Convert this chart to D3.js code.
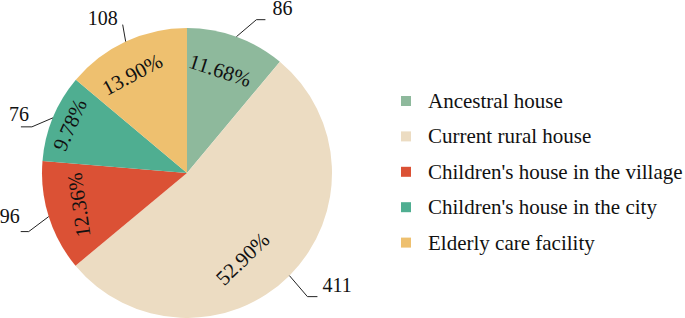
<!DOCTYPE html>
<html lang="en">
<head>
<meta charset="utf-8">
<title>Pie chart</title>
<script src="https://d3js.org/d3.v7.min.js"></script>
<style>
  body { margin: 0; background: #fff; }
  text { font-family: "Liberation Serif", "Times New Roman", serif; fill: #111; }
</style>
</head>
<body>
<div id="chart"></div>
<script>
// data
var categories = ["Ancestral house", "Current rural house", "Children's house in the village", "Children's house in the city", "Elderly care facility"];
var counts = [86, 411, 96, 76, 108];
var percentLabels = ["11.68%", "52.90%", "12.36%", "9.78%", "13.90%"];
var colors = ["#8eb99c", "#ecdcc2", "#db5135", "#4fae91", "#eec06f"];

// layout tweaks for the labels (same order as categories)
var pctRadius = [108, 102, 113, 127, 113];
var pctShift = [-2, 12, 1, 0, -4]; // degrees away from the slice middle
var pctRotate = [18, -44, -98, -66, -28];
var kneeOffset = [[20, -17], [18, 21], [-20, 15], [-21, 9], [-3, -17]];
var tailLen = [9, 10, -8, -11, 0];
var countOffset = [[7, -5], [5, -5], [-1, -9], [8, -6], [-5, 0]];

var width = 685, height = 318;
var cx = 187, cy = 173, radius = 145;

var svg = d3.select("#chart")
  .append("svg")
  .attr("width", width)
  .attr("height", height);

var g = svg.append("g")
  .attr("transform", "translate(" + cx + "," + cy + ")");

var pie = d3.pie().sort(null).value(function (d) { return d; });
var arcs = pie(counts);

var arc = d3.arc().innerRadius(0).outerRadius(radius);

g.selectAll("path.slice")
  .data(arcs)
  .enter()
  .append("path")
  .attr("class", "slice")
  .attr("d", arc)
  .attr("fill", function (d, i) { return colors[i]; });

function mid(d) { return (d.startAngle + d.endAngle) / 2; }
function pt(a, r) { return [r * Math.sin(a), -r * Math.cos(a)]; }

// percentage labels inside the slices
g.selectAll("text.pct")
  .data(arcs)
  .enter()
  .append("text")
  .attr("class", "pct")
  .attr("text-anchor", "middle")
  .attr("dy", "0.35em")
  .style("font-size", "21px")
  .attr("transform", function (d, i) {
    var a = mid(d) + pctShift[i] * Math.PI / 180;
    var p = pt(a, pctRadius[i]);
    return "translate(" + p[0] + "," + p[1] + ") rotate(" + pctRotate[i] + ")";
  })
  .text(function (d, i) { return percentLabels[i]; });

// leader lines with counts
arcs.forEach(function (d, i) {
  var p0 = pt(mid(d), radius);
  var p1 = [p0[0] + kneeOffset[i][0], p0[1] + kneeOffset[i][1]];
  var p2 = [p1[0] + tailLen[i], p1[1]];
  var right = p0[0] > 0;

  g.append("polyline")
    .attr("points", [p0, p1, p2].map(function (p) { return p.join(","); }).join(" "))
    .attr("fill", "none")
    .attr("stroke", "#222")
    .attr("stroke-width", 1);

  g.append("text")
    .attr("x", p2[0] + countOffset[i][0])
    .attr("y", p2[1] + countOffset[i][1])
    .attr("text-anchor", right ? "start" : "end")
    .style("font-size", "20px")
    .text(counts[i]);
});

// legend
var legend = svg.append("g")
  .attr("transform", "translate(401,101)");

var rows = legend.selectAll("g.row")
  .data(categories)
  .enter()
  .append("g")
  .attr("class", "row")
  .attr("transform", function (d, i) { return "translate(0," + (i * 35.4) + ")"; });

rows.append("rect")
  .attr("x", 0)
  .attr("y", -5)
  .attr("width", 10)
  .attr("height", 10)
  .attr("fill", function (d, i) { return colors[i]; });

rows.append("text")
  .attr("x", 27)
  .attr("y", 7)
  .style("font-size", "21px")
  .text(function (d) { return d; });
</script>
</body>
</html>
